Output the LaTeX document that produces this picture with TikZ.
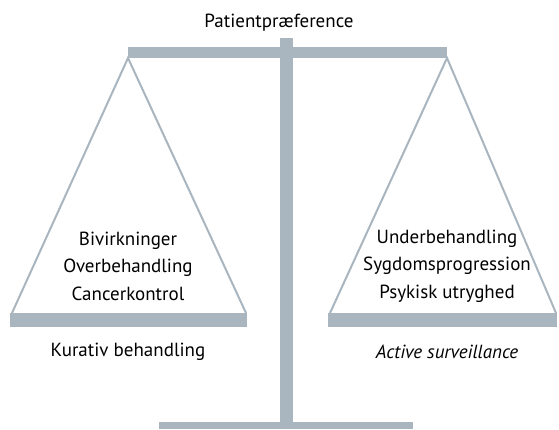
\documentclass[tikz,border=0pt]{standalone}
\usepackage{fontspec}
\setmainfont{PT Sans}
\usepackage{tikz}
\usetikzlibrary{positioning}
\definecolor{scalegray}{HTML}{A9B5BF}

\begin{document}
\begin{tikzpicture}[x=1pt, y=-1pt,
  bar/.style={fill=scalegray, draw=none},
  rope/.style={draw=scalegray, line width=2pt},
  lbl/.style={font=\fontsize{19}{27.5}\selectfont, align=center, inner sep=0pt}]
  \useasboundingbox (0,0) rectangle (559,429);
  % stand
  \path[bar] (280,38) rectangle (293,423);
  \path[bar] (159,422) rectangle (413,429);
  \path[bar] (128,47) rectangle (447,58);
  % pans
  \coordinate (la) at (128,58);
  \coordinate (ra) at (447,58);
  \path[bar] (10,313) rectangle (247,327);
  \path[bar] (328,313) rectangle (557,327);
  \draw[rope] (12,313) -- (la) -- (246,313);
  \draw[rope] (330,313) -- (ra) -- (556,313);
  % texts
  \node[lbl] (top) at (279,23) {Patientpræference};
  \node[lbl] (left) at (128,266) {Bivirkninger\\Overbehandling\\Cancerkontrol};
  \node[lbl] (right) at (447,266) {Underbehandling\\Sygdomsprogression\\Psykisk utryghed};
  \node[lbl] (kur) at (128,352) {Kurativ behandling};
  \node[lbl] (as) at (447,352) {\itshape Active surveillance};
\end{tikzpicture}
\end{document}
